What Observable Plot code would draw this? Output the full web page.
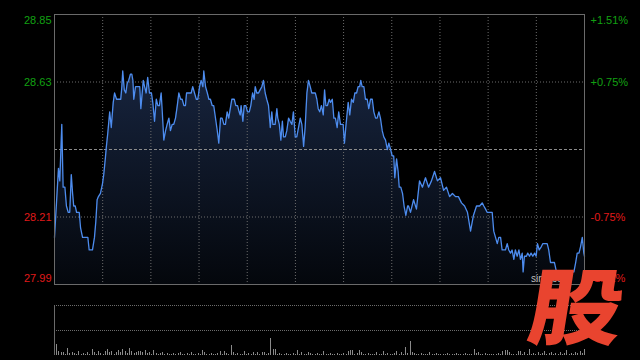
<!DOCTYPE html>
<html>
<head>
<meta charset="utf-8">
<script src="https://cdn.jsdelivr.net/npm/d3@7"></script>
<script src="https://cdn.jsdelivr.net/npm/@observablehq/plot@0.6"></script>
<style>
html,body{margin:0;padding:0;background:#000;}
#wrap{position:relative;width:640px;height:360px;overflow:hidden;background:#000;font-family:"Liberation Sans",Arial,sans-serif;}
#main{position:absolute;left:0;top:0;}
#vol{position:absolute;left:0;top:290px;}
#src{position:absolute;left:531px;top:273px;font-size:10px;color:#bdbdbd;}
#logo{position:absolute;left:524px;top:261px;font-family:"Noto Sans CJK SC",sans-serif;font-weight:900;font-size:83px;line-height:1;color:#e9442f;transform-origin:left bottom;transform:scaleX(1.13) skewX(-8deg);}
</style>
</head>
<body>
<div id="wrap">
  <div id="main"></div>
  <div id="vol"></div>
  <div id="src">sina.com</div>
  <div id="logo">股</div>
</div>
<script>
// ---- data: minutes since open (0..240) and last price ----
const prevClose = 28.42;

const times = [
  0,1.8,2.4,3.3,3.9,4.7,5.4,6.2,6.9,7.6,
  8.2,8.7,9.4,10.0,11.2,11.8,12.7,15.1,15.7,17.2,
  18.1,18.7,19.3,19.9,20.8,21.7,22.3,23.0,23.5,24.1,
  25.0,25.7,26.6,27.2,28.1,30.0,30.5,30.9,31.6,32.3,
  32.9,33.6,34.4,35.0,35.5,35.9,36.7,38.6,39.1,
  40.2,40.8,41.5,42.2,43.0,43.9,44.5,45.3,46.1,46.8,
  47.5,48.3,48.8,49.5,50.3,51.0,51.8,52.5,53.3,54.0,
  54.8,55.6,56.3,57.1,57.8,58.6,59.3,59.8,61.9,62.6,
  63.4,64.2,64.9,65.7,66.4,67.2,67.6,68.4,69.2,69.9,
  70.6,71.4,72.1,72.9,73.7,74.4,75.2,75.9,76.7,77.4,
  78.2,78.9,
  79.6,80.3,81.4,82.1,82.9,83.6,84.1,84.5,85.3,85.9,
  86.6,87.4,88.2,88.9,89.7,90.4,90.9,91.6,92.4,93.1,
  93.9,94.6,95.4,96.1,96.9,97.7,98.4,98.9,99.9,100.7,
  101.1,101.8,102.5,103.2,103.7,104.5,105.2,106.0,106.7,107.5,
  108.2,109.0,109.7,110.5,111.3,112.0,112.8,113.5,114.3,115.0,
  115.8,116.5,118.1,118.8,
  119.4,120.1,120.9,121.7,122.3,122.9,123.6,124.4,125.0,125.8,
  126.5,127.2,128.0,128.7,129.5,130.7,131.3,131.9,133.0,133.7,
  134.5,135.3,136.0,136.8,137.5,138.2,138.7,139.3,140.1,140.8,
  141.6,142.3,143.1,143.9,144.6,145.4,146.1,146.9,147.6,148.4,
  149.1,149.9,150.7,151.4,152.2,152.9,153.6,154.1,154.9,155.6,
  156.1,156.8,157.6,158.3,159.1,159.9,160.3,
  161.2,162.6,163.9,165.3,166.6,168.0,169.4,170.7,172.1,173.4,
  174.8,176.2,177.5,178.9,180.2,181.6,182.9,184.3,185.7,187.0,
  188.4,189.7,191.1,
  192.5,193.7,194.4,195.2,195.9,196.7,197.4,198.2,198.9,199.7,
  200.5,201.2,202.0,202.7,204.2,205.0,205.7,206.5,207.2,208.0,
  208.7,209.5,210.3,211.0,211.8,212.2,212.8,213.7,214.3,215.1,
  215.8,216.6,217.4,218.1,218.7,219.5,220.4,221.1,223.1,223.8,
  224.6,225.4,226.4,227.3,229.1,231.4,233.7,235.2,236.0,236.7,
  237.5,238.2,239.0,239.7,240
];

const prices = [
  28.14,28.36,28.32,28.50,28.30,28.30,28.24,28.22,28.22,28.34,
  28.28,28.24,28.24,28.22,28.22,28.17,28.14,28.14,28.10,28.10,
  28.14,28.19,28.26,28.27,28.28,28.31,28.34,28.39,28.43,28.47,
  28.54,28.49,28.57,28.60,28.58,28.58,28.62,28.67,28.61,28.60,
  28.63,28.64,28.66,28.66,28.64,28.58,28.62,28.62,28.55,
  28.64,28.62,28.60,28.65,28.60,28.60,28.57,28.51,28.58,28.56,
  28.56,28.60,28.54,28.45,28.48,28.50,28.52,28.48,28.50,28.50,
  28.52,28.56,28.60,28.58,28.58,28.56,28.56,28.60,28.60,28.62,
  28.60,28.58,28.58,28.62,28.64,28.62,28.67,28.62,28.60,28.58,
  28.58,28.56,28.56,28.52,28.48,28.44,28.52,28.52,28.50,28.50,
  28.54,28.52,
  28.55,28.58,28.58,28.56,28.56,28.54,28.53,28.56,28.51,28.56,
  28.56,28.54,28.54,28.56,28.60,28.58,28.62,28.60,28.60,28.61,
  28.62,28.64,28.60,28.58,28.56,28.49,28.54,28.50,28.50,28.55,
  28.52,28.50,28.45,28.51,28.46,28.46,28.48,28.52,28.51,28.50,
  28.54,28.46,28.46,28.49,28.52,28.50,28.43,28.49,28.60,28.64,
  28.62,28.60,28.60,28.58,
  28.55,28.54,28.56,28.53,28.61,28.56,28.56,28.58,28.57,28.58,
  28.52,28.52,28.49,28.54,28.50,28.50,28.44,28.49,28.57,28.53,
  28.58,28.57,28.60,28.60,28.62,28.62,28.64,28.62,28.62,28.58,
  28.58,28.55,28.58,28.58,28.54,28.52,28.52,28.54,28.52,28.48,
  28.46,28.45,28.42,28.44,28.42,28.40,28.40,28.33,28.39,28.35,
  28.30,28.30,28.28,28.24,28.21,28.24,28.24,
  28.22,28.26,28.23,28.32,28.30,28.33,28.30,28.32,28.35,28.32,
  28.33,28.29,28.30,28.27,28.28,28.27,28.27,28.25,28.24,28.22,
  28.16,28.21,28.24,
  28.24,28.25,28.24,28.23,28.22,28.22,28.22,28.22,28.16,28.14,
  28.12,28.14,28.14,28.10,28.10,28.12,28.10,28.09,28.10,28.07,
  28.10,28.08,28.10,28.07,28.09,28.03,28.08,28.08,28.09,28.08,
  28.09,28.08,28.09,28.08,28.12,28.10,28.11,28.12,28.12,28.10,
  28.06,28.06,28.06,28.03,28.02,28.02,28.03,28.03,28.06,28.09,
  28.09,28.11,28.14,28.09,28.08
];

// per-minute volume (relative units), minute 0..240
const volumes = [
  5,11,4,3,3,1,7,2,3,2,
  1,4,1,2,1,3,1,6,3,1,
  4,2,1,4,6,3,4,1,3,5,
  3,6,4,2,7,4,2,3,4,4,
  3,5,2,3,1,5,2,1,2,3,
  1,2,1,1,2,1,2,3,1,1,
  2,1,3,1,1,2,1,5,3,1,
  1,2,1,1,2,4,1,4,2,1,
  10,3,1,2,1,1,4,1,2,1,
  3,1,3,1,3,3,1,2,17,6,
  6,1,2,1,1,2,1,1,2,1,
  5,1,3,1,1,3,2,1,1,2,
  1,1,4,1,1,2,1,1,2,1,
  1,2,1,4,5,5,1,2,5,3,
  1,1,2,1,1,1,3,1,1,4,
  1,2,1,1,2,4,1,3,1,8,
  2,14,3,2,1,1,2,1,1,1,
  3,1,1,2,1,1,1,1,2,1,
  1,1,2,1,1,1,2,1,1,1,
  6,2,3,1,1,2,1,1,1,1,
  1,2,1,4,5,5,3,1,1,1,
  4,4,1,3,1,6,1,2,1,3,
  1,2,4,1,2,3,1,2,1,3,
  1,2,5,1,2,1,3,2,4,2,6
];

// axis ticks & labels
const priceTicks = [28.85, 28.635, 28.42, 28.205, 27.99];
const leftLabels = ["28.85", "28.63", "", "28.21", "27.99"];
const rightLabels = ["+1.51%", "+0.75%", "", "-0.75%", "-1.51%"];
const timeGridCount = 11;
const volMax = 50;

// ---- build ----
const n = Math.min(times.length, prices.length);
const series = d3.range(n).map(i => ({t: times[i], p: prices[i]}));
const volData = volumes.map((v, i) => ({t: i, v}));
const rows = priceTicks.map((v, i) => ({v, left: leftLabels[i], right: rightLabels[i], i}));
const vGrid = d3.range(1, timeGridCount).map(i => i * 240 / timeGridCount);

const GREEN = "#12a012", RED = "#e01a1a";
const GRID = "#6c6c6c";
const font = "'Liberation Sans', Arial, sans-serif";

const gradDefs = () => {
  const defs = document.createElementNS("http://www.w3.org/2000/svg", "defs");
  defs.innerHTML = '<linearGradient id="areaGrad" x1="0" y1="0" x2="0" y2="1">' +
    '<stop offset="0" stop-color="#17243e"/><stop offset="1" stop-color="#04070c"/></linearGradient>';
  return defs;
};

function labelMarks(filter, dy) {
  const sub = rows.filter(filter);
  return [
    Plot.text(sub, {y: "v", text: "left", frameAnchor: "left", textAnchor: "end", dx: -3, dy,
      fill: d => d.v > prevClose ? GREEN : RED, fontSize: 11, fontFamily: font}),
    Plot.text(sub, {y: "v", text: "right", frameAnchor: "right", textAnchor: "start", dx: 6, dy,
      fill: d => d.v > prevClose ? GREEN : RED, fontSize: 11, fontFamily: font})
  ];
}

const main = Plot.plot({
  width: 640, height: 290,
  marginLeft: 54, marginRight: 56, marginTop: 14, marginBottom: 6,
  style: {background: "transparent", color: "#ccc"},
  x: {domain: [0, 240], axis: null},
  y: {domain: [27.99, 28.85], axis: null},
  color: {type: "identity"},
  marks: [
    gradDefs,
    Plot.areaY(series, {x: "t", y1: () => priceTicks[4], y2: "p", fill: "url(#areaGrad)"}),
    Plot.ruleX(vGrid, {stroke: GRID, strokeDasharray: "1,2"}),
    Plot.ruleY([priceTicks[1], priceTicks[3]], {stroke: GRID, strokeDasharray: "1,2"}),
    Plot.ruleY([prevClose], {stroke: "#8c8c8c", strokeDasharray: "3,2"}),
    Plot.line(series, {x: "t", y: "p", stroke: "#4d8cee", strokeWidth: 1.3}),
    Plot.frame({stroke: "#6a6a6a"}),
    ...labelMarks(d => d.i === 0, 6),
    ...labelMarks(d => d.i === 1 || d.i === 3, 0),
    ...labelMarks(d => d.i === 4, -6)
  ]
});
document.getElementById("main").append(main);

const vol = Plot.plot({
  width: 640, height: 70,
  marginLeft: 54, marginRight: 56, marginTop: 15, marginBottom: 5,
  style: {background: "transparent"},
  x: {domain: [0, 240], axis: null},
  y: {domain: [0, volMax], axis: null},
  marks: [
    Plot.ruleY([volMax, volMax / 2], {stroke: GRID, strokeDasharray: "1,1"}),
    Plot.ruleX(volData, {x: "t", y1: 0, y2: "v", stroke: "#8a8a8a", shapeRendering: "crispEdges"}),
    Plot.ruleX([0], {stroke: "#6a6a6a"})
  ]
});
document.getElementById("vol").append(vol);
</script>
</body>
</html>
